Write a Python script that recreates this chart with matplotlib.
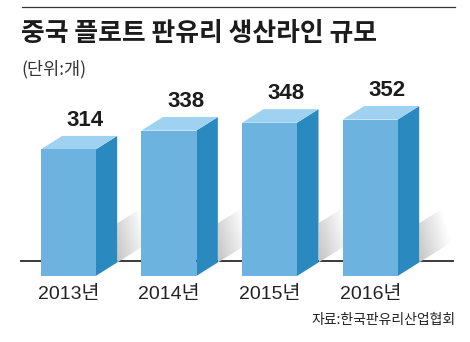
"""
China float-glass production lines, 2013-2016 (pseudo 3-D column chart).
"""

import matplotlib

matplotlib.use("Agg")
import matplotlib.pyplot as plt
import numpy as np
from matplotlib.font_manager import fontManager
from matplotlib.lines import Line2D
from matplotlib.patches import Polygon

# ---- data ---------------------------------------------------------------
years = ["2013년", "2014년", "2015년", "2016년"]
line_counts = [314, 338, 348, 352]

TITLE = "중국 플로트 판유리 생산라인 규모"
UNIT = "(단위:개)"
SOURCE = "자료:한국판유리산업협회"

# ---- style --------------------------------------------------------------
_FRONT = "#6db3e0"
_SIDE = "#2a8ac0"
_TOP = "#9fd1f0"
_RULE = "#3a3a3a"
_TEXT = "#1c1c1c"

_installed = {f.name for f in fontManager.ttflist}
_NARROW = "Liberation Sans Narrow" if "Liberation Sans Narrow" in _installed else "Liberation Sans"
_KR = "Noto Sans CJK KR"

FLOOR = 153          # bars are not zero-based in the original graphic
BAR_W = 0.546
DX, DY = 0.2136, 17.2            # 3-D depth (data units)
SH_W, SH_RISE, SH_H = 0.377, 30.0, 50.0   # floor shadow behind each column


def _shadow(ax, x0, y0):
    verts = [(x0, y0), (x0 + SH_W, y0 + SH_RISE),
             (x0 + SH_W, y0 + SH_RISE + SH_H), (x0, y0 + SH_H)]
    clip = Polygon(verts, closed=True, facecolor="none", edgecolor="none",
                   transform=ax.transData)
    ax.add_patch(clip)
    u = np.linspace(0, 1, 64)[None, :]
    v = np.linspace(0, 1, 64)[:, None]
    img = np.clip(0.77 + 0.23 * u + 0.10 * v, 0, 1)
    im = ax.imshow(img, cmap="gray", vmin=0, vmax=1, origin="lower",
                   extent=(x0, x0 + SH_W, y0, y0 + SH_RISE + SH_H),
                   aspect="auto", interpolation="bilinear", zorder=1.5)
    im.set_clip_path(clip)


fig = plt.figure(figsize=(4.7, 3.42), dpi=100)
ax = fig.add_axes([0.038, 0.193, 0.9424, 0.6316])

x = np.arange(len(years))
vals = np.array(line_counts, dtype=float)

# floor line
ax.axhline(FLOOR + 19.5, xmin=0.007, xmax=0.982, color=_RULE, lw=1.4, zorder=1)

for xi, v in zip(x, vals):
    xl, xr = xi - BAR_W / 2, xi + BAR_W / 2
    _shadow(ax, xr + DX, FLOOR + DY)
    ax.add_patch(Polygon([(xr, FLOOR), (xr + DX, FLOOR + DY), (xr + DX, v + DY), (xr, v)],
                         closed=True, facecolor=_SIDE, edgecolor="none", zorder=3))
    ax.add_patch(Polygon([(xl, v), (xr, v), (xr + DX, v + DY), (xl + DX, v + DY)],
                         closed=True, facecolor=_TOP, edgecolor="none", zorder=3))
    ax.annotate(f"{int(v)}", xy=(xi, v + DY), xytext=(12.2, 7.2),
                textcoords="offset points", ha="center", va="baseline",
                fontsize=16, fontweight="bold", family=_NARROW, color=_TEXT)

ax.bar(x, vals - FLOOR, bottom=FLOOR, width=BAR_W, color=_FRONT,
       linewidth=0, zorder=3)

ax.set_xlim(-0.5, 3.9)
ax.set_ylim(FLOOR, FLOOR + 274.8)
ax.set_xticks(x, years)
ax.set_yticks([])
ax.tick_params(axis="x", length=0, pad=7.5)
for lbl in ax.get_xticklabels():
    lbl.set_fontfamily([_NARROW, _KR])
    lbl.set_fontsize(14)
    lbl.set_color("#222222")
for sp in ax.spines.values():
    sp.set_visible(False)
ax.patch.set_visible(False)

# header / footer
fig.add_artist(Line2D([22 / 470, 455 / 470], [1 - 7 / 342] * 2, color="#333333", lw=0.9))
fig.text(21 / 470, 1 - 41 / 342, TITLE, fontsize=18.6, fontweight="bold",
         family=_KR, va="baseline", color=_TEXT)
fig.text(21 / 470, 1 - 74 / 342, UNIT, fontsize=12.6, family=_KR,
         va="baseline", color="#333333")
fig.text(456 / 470, 1 - 324 / 342, SOURCE, fontsize=10, family=_KR,
         ha="right", va="baseline", color="#222222")

fig.savefig("out.png", dpi=100)
